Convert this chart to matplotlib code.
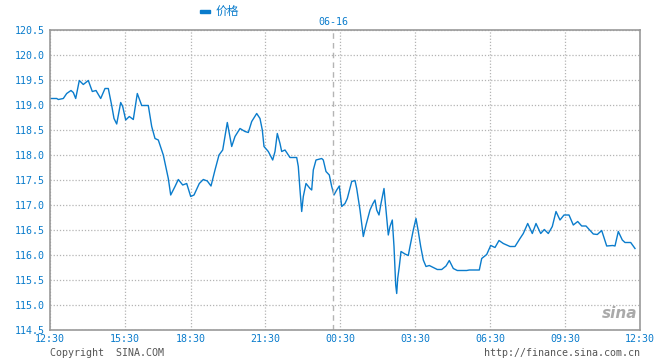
import matplotlib
matplotlib.use('Agg')
import matplotlib.pyplot as plt
from matplotlib.patches import Rectangle

plt.rcParams['font.family'] = ['DejaVu Sans Mono', 'Noto Sans CJK SC']

# sample index (0 = 12:30, 590 = 12:30 next day) and price
idx = [0, 6.7, 8.3, 13.3, 16.7, 21, 23.3, 25.7, 29.3, 33.3, 38.3, 42.3, 46, 50.7, 55, 58.3,
       61.7, 64, 66.7, 70.7, 72.7, 75.7, 79.3, 83.3, 87.3, 91.7, 98.3, 101.7, 105, 108.3,
       113.3, 118.3, 120.7, 125, 128.3, 132.7, 136.7, 140.7, 144, 149.3, 153.3, 157.3, 161,
       165, 169, 172.7, 176, 177.3, 181.7, 185, 190, 195, 198.3, 201.7, 206.7, 210, 212.3,
       214, 218.3, 222.7, 225, 227.3, 230, 231.7, 235, 240, 246.7, 248.3, 250, 251.7, 253.3,
       256, 260, 261.7, 263.3, 266, 271.7, 273.3, 276, 279.3, 281.7, 284, 286.7, 289.3,
       291.7, 295, 297.3, 301.7, 305, 306.7, 310, 313.3, 316, 320, 322.7, 325, 326.7, 329,
       331, 334, 336, 338.3, 340, 342.3, 344, 345.7, 346.7, 347.7, 349.3, 351, 355, 358.3,
       360, 363.3, 366, 368.3, 370.7, 373.3, 376, 379.3, 383.3, 387.3, 391.7, 396, 399.3,
       403.3, 407.3, 416.7, 419.3, 429.3, 431.7, 436.7, 440.7, 445, 449, 453.3, 460, 465,
       470, 473.3, 477.7, 482.3, 486, 490.7, 494.3, 498.3, 502.3, 506, 510, 514, 519, 523.3,
       527.7, 531.7, 536, 543.3, 547.3, 551.7, 556.7, 562.7, 565, 568.3, 572.3, 575, 580.7, 585]
price = [119.13, 119.13, 119.11, 119.13, 119.23, 119.29, 119.25, 119.13, 119.49, 119.41,
         119.49, 119.27, 119.29, 119.13, 119.33, 119.33, 118.99, 118.73, 118.62, 119.05,
         118.97, 118.70, 118.77, 118.71, 119.23, 118.99, 118.99, 118.57, 118.33, 118.30,
         118.00, 117.53, 117.20, 117.37, 117.51, 117.40, 117.43, 117.17, 117.20, 117.43,
         117.51, 117.48, 117.38, 117.70, 118.00, 118.10, 118.50, 118.65, 118.17, 118.37,
         118.53, 118.47, 118.45, 118.67, 118.83, 118.73, 118.50, 118.17, 118.07, 117.90,
         118.07, 118.43, 118.23, 118.07, 118.10, 117.95, 117.95, 117.77, 117.30, 116.87,
         117.17, 117.43, 117.33, 117.30, 117.70, 117.90, 117.93, 117.90, 117.67, 117.60,
         117.37, 117.20, 117.30, 117.38, 116.97, 117.03, 117.13, 117.47, 117.49, 117.33,
         116.90, 116.37, 116.60, 116.90, 117.02, 117.10, 116.90, 116.80, 117.03, 117.33,
         116.90, 116.40, 116.57, 116.70, 116.17, 115.40, 115.23, 115.53, 115.77, 116.07,
         116.02, 115.99, 116.17, 116.50, 116.73, 116.47, 116.17, 115.90, 115.77, 115.79,
         115.75, 115.71, 115.71, 115.78, 115.89, 115.73, 115.69, 115.69, 115.70, 115.70,
         115.93, 116.01, 116.19, 116.15, 116.29, 116.23, 116.17, 116.17, 116.33, 116.43,
         116.63, 116.43, 116.63, 116.43, 116.51, 116.43, 116.57, 116.87, 116.70, 116.80,
         116.80, 116.60, 116.67, 116.58, 116.58, 116.42, 116.41, 116.49, 116.18, 116.19,
         116.18, 116.47, 116.30, 116.25, 116.25, 116.13]

tick_idx = [0, 75, 141, 215, 290, 365, 440, 515, 590]
tick_labels = ['12:30', '15:30', '18:30', '21:30', '00:30', '03:30', '06:30', '09:30', '12:30']
y_ticks = [114.5, 115.0, 115.5, 116.0, 116.5, 117.0, 117.5, 118.0, 118.5, 119.0, 119.5, 120.0, 120.5]
day_break = 283

blue = '#0a7ccc'
fig = plt.figure(figsize=(6.6, 3.6), dpi=100)
ax = fig.add_axes([50 / 660, 30 / 360, 590 / 660, 300 / 360])
ax.plot(idx, price, color=blue, lw=1.0)
ax.set_xlim(0, 590)
ax.set_ylim(114.5, 120.5)
ax.set_xticks(tick_idx)
ax.set_xticklabels(tick_labels)
ax.set_yticks(y_ticks)
ax.set_yticklabels(['%.1f' % v for v in y_ticks])
ax.tick_params(length=0, colors=blue, labelsize=7.2)
ax.tick_params(axis='x', pad=3)
ax.tick_params(axis='y', pad=4)
ax.grid(True, color='#b4b4b4', linestyle=(0, (1, 1.5)), lw=0.9)
for s in ax.spines.values():
    s.set_color('#999999')
    s.set_linewidth(1.2)
ax.axvline(day_break, color='#b4b4b4', linestyle=(0, (4, 3)), lw=1)

# legend
fig.patches.append(Rectangle((200 / 660, 1 - 12.5 / 360), 10 / 660, 3 / 360,
                             transform=fig.transFigure, color=blue))
fig.text(216 / 660, 1 - 11 / 360, '价格', color=blue, fontsize=8.5, va='center')
fig.text(333 / 660, 1 - 22 / 360, '06-16', color=blue, fontsize=7.2, va='center', ha='center')
fig.text(50 / 660, 1 - 353 / 360, 'Copyright  SINA.COM', color='#555555', fontsize=7.2, va='center')
fig.text(640 / 660, 1 - 353 / 360, 'http://finance.sina.com.cn', color='#555555', fontsize=7.2,
         va='center', ha='right')
fig.text(637 / 660, 1 - 314 / 360, 'sina', color='#aaaaaa', fontsize=11, fontweight='bold',
         style='italic', va='center', ha='right', family='DejaVu Sans')

plt.savefig('out.png', dpi=100)
